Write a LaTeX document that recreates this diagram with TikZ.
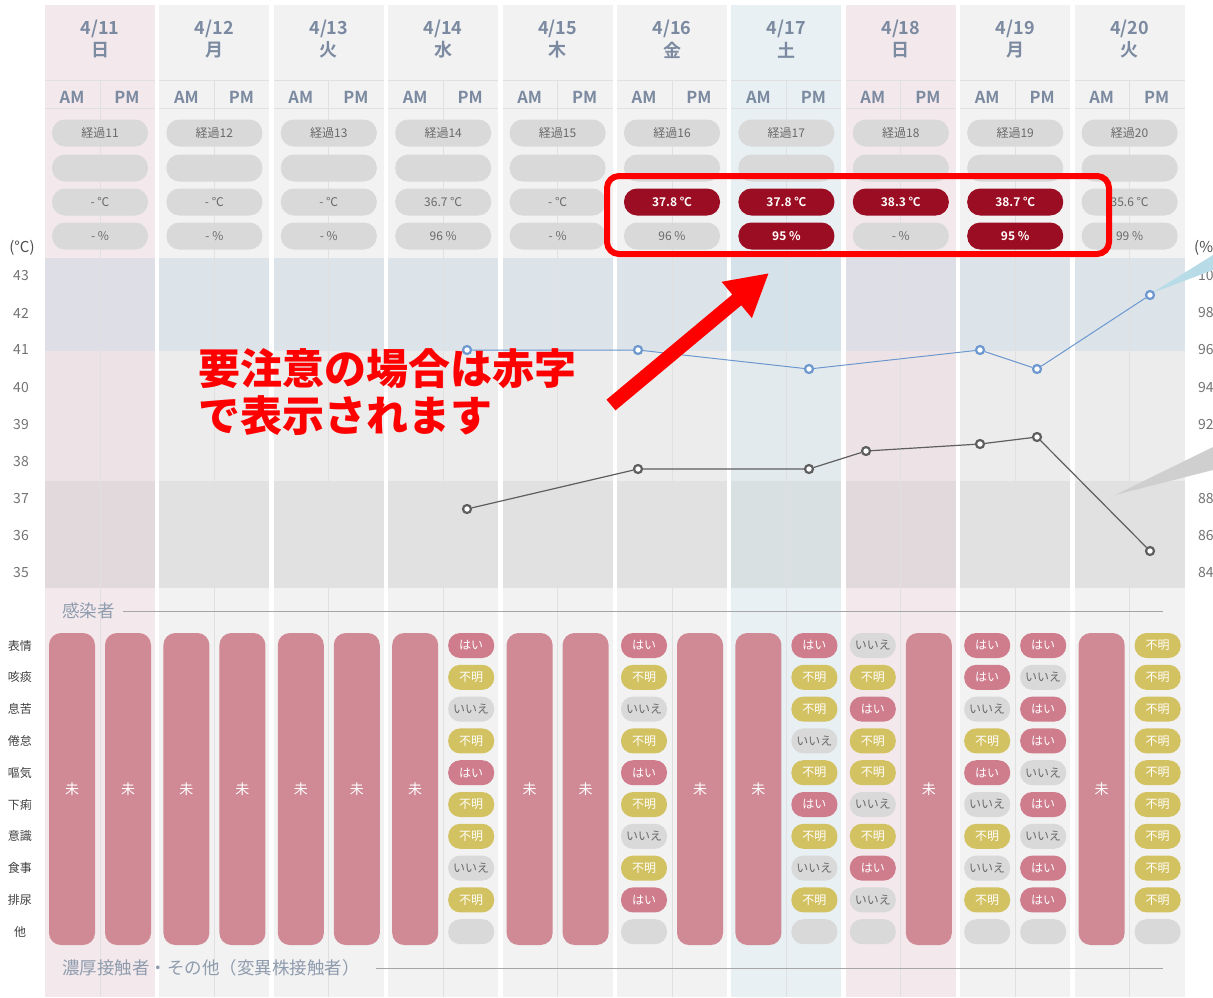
\documentclass[tikz,border=0pt]{standalone}
\usepackage{fontspec}
\setmainfont{Noto Sans CJK JP}[BoldFont={Noto Sans CJK JP Bold}]
\newfontfamily\notefont{Noto Sans CJK JP Black}
\usetikzlibrary{arrows.meta}

\definecolor{colbg}{HTML}{F2F2F2}
\definecolor{colsun}{HTML}{F3E9EC}
\definecolor{colsat}{HTML}{E8F0F3}
\definecolor{hdgray}{HTML}{7B8AA0}
\definecolor{pillgray}{HTML}{D9D9D9}
\definecolor{pilltext}{HTML}{6A6A6A}
\definecolor{alertred}{HTML}{9B0D22}
\definecolor{mipink}{HTML}{D08A96}
\definecolor{haipink}{HTML}{CF7C8C}
\definecolor{fumeiyel}{HTML}{D3C262}
\definecolor{spoblue}{HTML}{6C97CF}
\definecolor{tempgray}{HTML}{5E5E5E}
\definecolor{bandblue}{HTML}{B2C8DA}
\definecolor{tipblue}{HTML}{B7DCE7}
\definecolor{akaji}{HTML}{FF0000}

\tikzset{
  hd/.style={font=\fontsize{18}{18}\selectfont\bfseries, text=hdgray, inner sep=0},
  ampm/.style={font=\fontsize{16.5}{16.5}\selectfont\bfseries, text=hdgray, inner sep=0},
  pill/.style={fill=pillgray, text=pilltext, rounded corners=13, minimum width=96, minimum height=27, inner sep=0, font=\fontsize{12}{12}\selectfont},
  alertpill/.style={pill, fill=alertred, text=white, font=\fontsize{12}{12}\selectfont\bfseries},
  sym/.style={rounded corners=12, minimum width=46, minimum height=25, inner sep=0, font=\fontsize{12}{12}\selectfont},
  symh/.style={sym, fill=haipink, text=white},
  symf/.style={sym, fill=fumeiyel, text=white},
  symi/.style={sym, fill=pillgray, text=pilltext},
  symn/.style={sym, fill=pillgray},
  mibar/.style={fill=mipink, text=white, rounded corners=12, minimum width=46, minimum height=312, inner sep=0, font=\fontsize{14}{14}\selectfont},
  axlab/.style={text=black!55, font=\fontsize{14}{14}\selectfont, inner sep=0},
  unitlab/.style={text=black!70, font=\fontsize{15}{15}\selectfont, inner sep=0},
  rowlab/.style={text=black!75, font=\fontsize{12}{12}\selectfont, inner sep=0},
  seclab/.style={text=hdgray!85, font=\fontsize{17.5}{17.5}\selectfont, inner sep=0, anchor=west},
  notelab/.style={text=akaji, font=\fontsize{42}{42}\selectfont\notefont, anchor=west, inner sep=0},
  rule/.style={draw=black!12, line width=0.8},
  bandhi/.style={fill=bandblue, fill opacity=0.33},
  bandmid/.style={fill=black, fill opacity=0.025},
  bandlow/.style={fill=black, fill opacity=0.065},
  dotp/.style={circle, draw, fill=white, line width=2.2, minimum size=8, inner sep=0},
}
\def\txh{はい}\def\txf{不明}\def\txi{いいえ}\def\txn{}

\begin{document}
\begin{tikzpicture}[x=1pt,y=-1pt]
  \useasboundingbox (0,0) rectangle (1213,997);

  % day columns
  \foreach \d/\w/\c [count=\i from 0] in {11/日/colsun,12/月/colbg,13/火/colbg,14/水/colbg,15/木/colbg,16/金/colbg,17/土/colsat,18/日/colsun,19/月/colbg,20/火/colbg}{
    \pgfmathsetmacro\xa{45+114.4*\i}
    \fill[\c] (\xa,5) rectangle ++(110,992);
    \fill[bandhi] (\xa,258) rectangle ++(110,93);
    \fill[bandmid] (\xa,351) rectangle ++(110,130);
    \fill[bandlow] (\xa,481) rectangle ++(110,107);
    \draw[rule] (\xa,80) -- ++(110,0) (\xa,108) -- ++(110,0) (\xa+55,80) -- (\xa+55,997);
    \node[hd] (d\i) at (\xa+55,29) {4/\d};
    \node[hd] (w\i) at (\xa+55,50) {\w};
    \node[ampm] (am\i) at (\xa+27,97) {AM};
    \node[ampm] (pm\i) at (\xa+82,97) {PM};
    \node[pill] (kp\i) at (\xa+55,133) {経過\d};
    \node[pill] (bp\i) at (\xa+55,168) {};
  }

  % temperature / SpO2 pills
  \foreach \i/\v/\s in {0/- ℃/pill,1/- ℃/pill,2/- ℃/pill,3/36.7 ℃/pill,4/- ℃/pill,5/37.8 ℃/alertpill,6/37.8 ℃/alertpill,7/38.3 ℃/alertpill,8/38.7 ℃/alertpill,9/35.6 ℃/pill}
    \node[\s] (cp\i) at (100+114.4*\i,202) {\v};
  \foreach \i/\v/\s in {0/- \%/pill,1/- \%/pill,2/- \%/pill,3/96 \%/pill,4/- \%/pill,5/96 \%/pill,6/95 \%/alertpill,7/- \%/pill,8/95 \%/alertpill,9/99 \%/pill}
    \node[\s] (pp\i) at (100+114.4*\i,236) {\v};

  % axes
  \node[unitlab] (cunit) at (22,248) {(°C)};
  \node[unitlab, anchor=west] (punit) at (1194,248) {(\%)};
  \foreach \v [count=\k from 0] in {43,42,...,35}
    \node[axlab] (cl\k) at (21,276+37*\k) {\v};
  \foreach \v [count=\k from 0] in {100,98,...,84}
    \node[axlab, anchor=west] (pl\k) at (1198,276+37*\k) {\v};

  % cut-off tooltips
  \fill[tipblue] (1152,293) -- (1213,255) -- (1213,270) -- cycle;
  \fill[black!19] (1115,495) -- (1213,447) -- (1213,470) -- cycle;

  % SpO2 line
  \node[dotp, draw=spoblue] (sp1) at (467,350) {};
  \node[dotp, draw=spoblue] (sp2) at (638,350) {};
  \node[dotp, draw=spoblue] (sp3) at (809,369) {};
  \node[dotp, draw=spoblue] (sp4) at (980,350) {};
  \node[dotp, draw=spoblue] (sp5) at (1037,369) {};
  \node[dotp, draw=spoblue] (sp6) at (1150,295) {};
  \draw[spoblue, line width=1] (sp1) -- (sp2) -- (sp3) -- (sp4) -- (sp5) -- (sp6);

  % temperature line
  \node[dotp, draw=tempgray] (tc1) at (467,509) {};
  \node[dotp, draw=tempgray] (tc2) at (638,469) {};
  \node[dotp, draw=tempgray] (tc3) at (809,469) {};
  \node[dotp, draw=tempgray] (tc4) at (866,451) {};
  \node[dotp, draw=tempgray] (tc5) at (980,444) {};
  \node[dotp, draw=tempgray] (tc6) at (1037,437) {};
  \node[dotp, draw=tempgray] (tc7) at (1150,551) {};
  \draw[tempgray, line width=1.2] (tc1) -- (tc2) -- (tc3) -- (tc4) -- (tc5) -- (tc6) -- (tc7);

  % symptoms
  \node[seclab] (sec1) at (62,611) {感染者};
  \coordinate (sec1end) at (1163,611);
  \draw[black!35, line width=0.8] (sec1.east) ++(8,0) -- (sec1end);
  \foreach \t [count=\j from 0] in {表情,咳痰,息苦,倦怠,嘔気,下痢,意識,食事,排尿,他}
    \node[rowlab] (row\j) at (20,645.5+31.8*\j) {\t};
  \foreach \i/\h in {0/27,0/83,1/27,1/83,2/27,2/83,3/27,4/27,4/83,5/83,6/27,7/83,9/27}
    \node[mibar] (mi\i-\h) at (45+114.4*\i+\h,789) {未};
  \foreach \n/\xc/\lst in {3p/471.2/{h,f,i,f,h,f,f,i,f,n},5a/644/{h,f,i,f,h,f,i,f,h,n},6p/814.4/{h,f,f,i,f,h,f,i,f,n},7a/872.8/{i,f,h,f,f,i,f,h,i,n},8a/987.2/{h,h,i,f,h,i,f,i,f,n},8p/1043.2/{h,i,h,h,i,h,i,h,h,n},9p/1157.6/{f,f,f,f,f,f,f,f,f,n}}{
    \foreach \r [count=\j from 0] in \lst
      \node[sym\r] (r\n-\j) at (\xc,645.5+31.8*\j) {\csname tx\r\endcsname};
  }
  \node[seclab] (sec2) at (62,968) {濃厚接触者・その他（変異株接触者）};
  \coordinate (sec2end) at (1163,968);
  \draw[black!35, line width=0.8] (sec2.east) ++(16,0) -- (sec2end);

  % annotation
  \draw[akaji, line width=6, rounded corners=12] (607,176) rectangle (1109,254);
  \coordinate (arrtail) at (611,405);
  \coordinate (arrtip) at (769,273);
  \draw[akaji, line width=14, -{Triangle[length=42,width=44]}] (arrtail) -- (arrtip);
  \node[notelab] (note1) at (198,369) {要注意の場合は赤字};
  \node[notelab] (note2) at (198,416) {で表示されます};
\end{tikzpicture}
\end{document}
